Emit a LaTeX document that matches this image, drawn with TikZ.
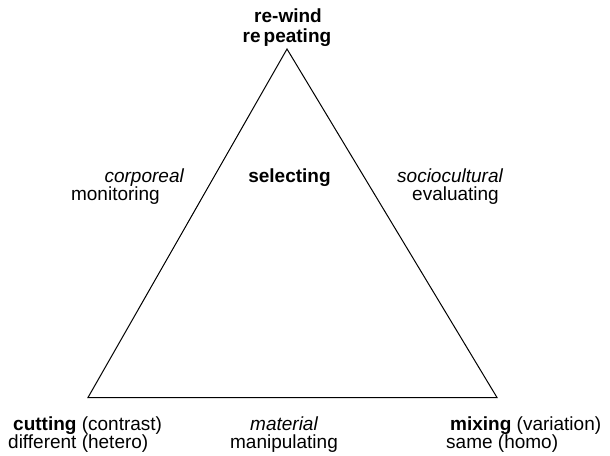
\documentclass[tikz,border=0pt]{standalone}
\usepackage{fontspec}
\setmainfont{Liberation Sans}
\begin{document}
\begin{tikzpicture}[x=1pt,y=-1pt,
  txt/.style={inner sep=0pt, font=\fontsize{19}{21}\selectfont},
  lblw/.style={txt, anchor=base west},
  lble/.style={txt, anchor=base east},
  lblc/.style={txt, anchor=base},
  edge/.style={line width=1pt, line join=miter}]
\useasboundingbox (0,0) rectangle (610,455);
% corners of the triangle
\coordinate (top) at (287,49);
\coordinate (left) at (88,397.5);
\coordinate (right) at (497,397.5);
\draw[edge] (top) -- (left) -- (right) -- cycle;
% apex
\node[lblc] (rewind) at (288,22) {\bfseries re-wind};
\node[lblc] (repeating) at (287,42.5) {\bfseries re\kern3pt peating};
% centre
\node[lblc] (selecting) at (289.5,182) {\bfseries selecting};
% left side
\node[lble] (corporeal) at (184,182) {\itshape corporeal};
\node[lble] (monitoring) at (160,200) {monitoring};
% right side
\node[lblw] (sociocultural) at (397,182) {\itshape sociocultural};
\node[lblw] (evaluating) at (412,200) {evaluating};
% bottom left
\node[lblw] (cutting) at (13,430) {\textbf{cutting} (contrast)};
\node[lblw] (different) at (8,448) {different (hetero)};
% bottom middle
\node[lblc] (material) at (284,430) {\itshape material};
\node[lblc] (manipulating) at (284,448) {manipulating};
% bottom right
\node[lblw] (mixing) at (450,430) {\textbf{mixing} (variation)};
\node[lblw] (same) at (446,448) {same (homo)};
\end{tikzpicture}
\end{document}
